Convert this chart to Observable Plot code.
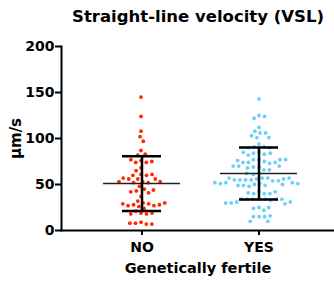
<!DOCTYPE html>
<html><head><meta charset="utf-8">
<script src="https://cdn.jsdelivr.net/npm/d3@7"></script>
<script src="https://cdn.jsdelivr.net/npm/@observablehq/plot@0.6"></script>
<style>body{margin:0;background:#fff}</style>
</head><body><div id="chart"></div>
<script>
const groups = ["NO", "YES"];
const noValues = [145, 124, 108, 102, 97, 87, 82, 83, 76, 74, 74, 75, 77, 68, 65, 61, 60, 60, 61,
  56, 56, 56, 57, 53, 52, 53, 52, 53, 48, 45, 43, 41, 42, 44, 37, 32, 30, 29, 28, 27, 26, 27, 28,
  29, 30, 24, 21, 19, 18, 18, 19, 9, 8, 7, 7, 8];
const yesValues = [143, 125, 122, 124, 112, 108, 106, 106, 103, 101, 101, 94, 91, 91, 90, 90,
  85, 84, 83, 82, 84, 85, 77, 77, 75, 74, 73, 74, 74, 76, 77, 77, 69, 69, 66, 70, 68, 66, 70, 70,
  62, 61, 62, 57, 57, 56, 55, 55, 54, 55, 54, 55, 56, 57, 57, 52, 52, 51, 50, 49, 48, 49, 50, 49,
  51, 51, 52, 42, 40, 40, 41, 40, 42, 34, 34, 34, 33, 34, 34, 34, 34, 31, 29, 30, 31, 30,
  25, 24, 22, 25, 15, 15, 15, 16, 10, 10];
const means = [51, 62];
const sds = [29.7, 28.3];
const yTicks = [0, 50, 100, 150, 200];
const title = "Straight-line velocity (VSL)";
const xLabel = "Genetically fertile";
const yLabel = "μm/s";

const W = 334, H = 282, mL = 61, mR = 0, mT = 46, mB = 52;
const xRange = [61, 339], xPad = 0.356;
const xScale = d3.scaleBand().domain(groups).range(xRange).padding(xPad);
const bw = xScale.bandwidth();
const xPos = groups.map(g => xScale(g) + bw / 2);
const mid = (mL + W - mR) / 2;
const colors = ["#ff2a00", "#6fcff8"];
const stats = groups.map((g, i) => ({g, mean: means[i], lo: means[i] - sds[i], hi: means[i] + sds[i]}));
const series = [noValues, yesValues];
const meanInset = bw / 2 - 39, capInset = bw / 2 - 20;

const plot = Plot.plot({
  width: W, height: H,
  marginLeft: mL, marginRight: mR, marginTop: mT, marginBottom: mB,
  style: {fontFamily: "'DejaVu Sans', Verdana, sans-serif", fontSize: "13px", fontWeight: "bold", color: "black", background: "white", overflow: "visible"},
  x: {type: "band", domain: groups, range: xRange, padding: xPad, axis: null, label: null},
  y: {domain: [0, 200], axis: null, label: null},
  marks: [
    ...series.map((vals, i) => Plot.dot(vals, Plot.dodgeX({anchor: "middle", padding: 1.8},
      {y: d => d, r: 1.9, fill: colors[i], dx: xPos[i] - mid - bw / 2}))),
    Plot.tickY(stats, {x: "g", y: "mean", insetLeft: meanInset, insetRight: meanInset, stroke: "#222", strokeWidth: 1.5}),
    Plot.tickY(stats, {x: "g", y: "lo", insetLeft: capInset, insetRight: capInset, stroke: "black", strokeWidth: 2.5}),
    Plot.tickY(stats, {x: "g", y: "hi", insetLeft: capInset, insetRight: capInset, stroke: "black", strokeWidth: 2.5}),
    Plot.ruleX(stats, {x: "g", y1: "lo", y2: "hi", stroke: "black", strokeWidth: 2.5}),
    Plot.frame({anchor: "left", strokeWidth: 2}),
    Plot.ruleY([0], {strokeWidth: 2}),
    Plot.axisY(yTicks, {tickSize: 6, tickPadding: 1, strokeWidth: 2, fontSize: 14, fontWeight: "bold", label: null}),
    Plot.axisX({tickSize: 5, tickPadding: 7, strokeWidth: 2, fontSize: 14, fontWeight: "bold", label: null}),
    Plot.text([yLabel], {frameAnchor: "left", dx: -45, rotate: -90, textAnchor: "middle", lineAnchor: "middle", fontSize: 15, fontWeight: "bold"}),
    Plot.text([title], {frameAnchor: "top", dy: -30, textAnchor: "middle", lineAnchor: "middle", fontSize: 16.5, fontWeight: "bold"}),
    Plot.text([xLabel], {frameAnchor: "bottom", dy: 38, textAnchor: "middle", lineAnchor: "middle", fontSize: 14.5, fontWeight: "bold"})
  ]
});
document.getElementById("chart").appendChild(plot);
</script>
</body></html>
